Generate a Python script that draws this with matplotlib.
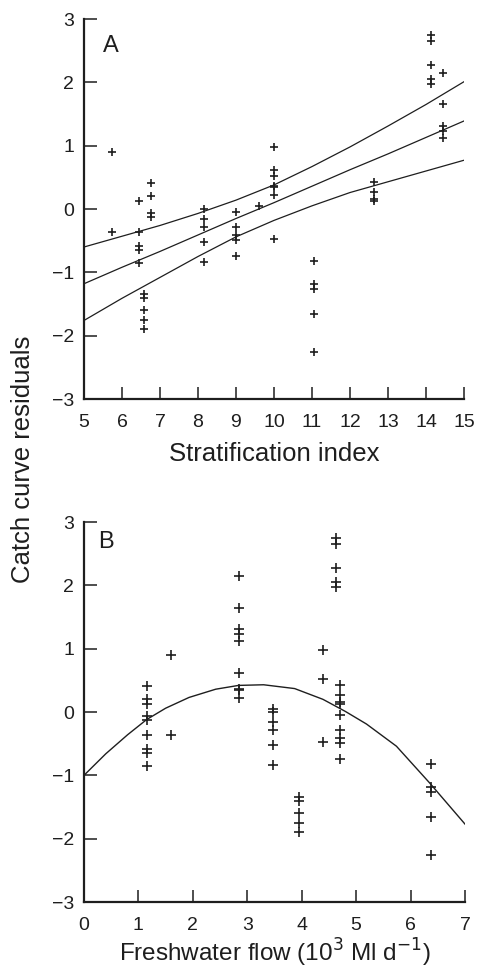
import matplotlib
matplotlib.use("Agg")
import matplotlib.pyplot as plt

plt.rcParams['font.family'] = ['Liberation Sans', 'DejaVu Sans']

# panel A: residuals against stratification index
strat = [5.73, 5.73,
         6.45, 6.45, 6.45, 6.45, 6.45,
         6.59, 6.59, 6.59, 6.59, 6.59,
         6.77, 6.77, 6.77, 6.77,
         8.16, 8.16, 8.16, 8.16, 8.16,
         9.0, 9.0, 9.0, 9.0, 9.0,
         9.61,
         10.0, 10.0, 10.0, 10.0, 10.0, 10.0, 10.0,
         11.06, 11.06, 11.06, 11.06, 11.06,
         12.63, 12.63, 12.63, 12.63,
         14.12, 14.12, 14.12, 14.12, 14.12,
         14.45, 14.45, 14.45, 14.45, 14.45]
resid_a = [0.90, -0.36,
           0.12, -0.36, -0.58, -0.65, -0.85,
           -1.34, -1.40, -1.60, -1.76, -1.90,
           0.41, 0.21, -0.07, -0.12,
           0.00, -0.16, -0.29, -0.52, -0.84,
           -0.05, -0.29, -0.41, -0.49, -0.74,
           0.05,
           0.98, 0.61, 0.52, 0.37, 0.35, 0.22, -0.47,
           -0.82, -1.19, -1.27, -1.66, -2.26,
           0.42, 0.27, 0.16, 0.12,
           2.75, 2.65, 2.28, 2.06, 1.98,
           2.14, 1.65, 1.31, 1.23, 1.12]

# regression line and confidence band
fit_x = [5, 6, 7, 8, 9, 10, 11, 12, 13, 14, 15]
fit_mid = [-1.18, -0.92, -0.67, -0.41, -0.15, 0.10, 0.36, 0.62, 0.87, 1.13, 1.39]
fit_up = [-0.60, -0.43, -0.26, -0.07, 0.14, 0.38, 0.67, 0.98, 1.31, 1.65, 2.01]
fit_lo = [-1.76, -1.41, -1.08, -0.75, -0.44, -0.18, 0.05, 0.26, 0.43, 0.60, 0.77]

# panel B: residuals against freshwater flow
flow = [1.60, 1.60,
        1.15, 1.15, 1.15, 1.15, 1.15,
        3.95, 3.95, 3.95, 3.95, 3.95,
        1.15, 1.15, 1.15, 1.15,
        3.47, 3.47, 3.47, 3.47, 3.47,
        4.70, 4.70, 4.70, 4.70, 4.70,
        3.47,
        4.39, 2.84, 4.39, 2.84, 2.84, 2.84, 4.39,
        6.38, 6.38, 6.38, 6.38, 6.38,
        4.70, 4.70, 4.70, 4.70,
        4.63, 4.63, 4.63, 4.63, 4.63,
        2.84, 2.84, 2.84, 2.84, 2.84]
resid_b = resid_a

curve_x = [0, 0.4, 0.8, 1.15, 1.5, 1.93, 2.42, 2.84, 3.3, 3.87, 4.39, 4.8, 5.19, 5.74, 6.35, 7.0]
curve_y = [-1.0, -0.66, -0.36, -0.12, 0.06, 0.23, 0.36, 0.42, 0.43, 0.37, 0.20, 0.01, -0.19, -0.54, -1.12, -1.77]

ink = '#1e1e1e'

fig = plt.figure(figsize=(4.81, 9.72), dpi=100)
axA = fig.add_axes([84 / 481, 1 - 399 / 972, 380 / 481, 380 / 972])
axB = fig.add_axes([84 / 481, 1 - 902 / 972, 381 / 481, 380 / 972])


def style(ax):
    for s in ['top', 'right']:
        ax.spines[s].set_visible(False)
    for s in ['left', 'bottom']:
        ax.spines[s].set_linewidth(1.6)
        ax.spines[s].set_color(ink)
    ax.tick_params(direction='in', length=9, width=1.1, colors=ink,
                   labelsize=14)
    ax.tick_params(axis='y', pad=7)
    ax.tick_params(axis='x', pad=11)
    ax.set_ylim(-3, 3)
    ax.set_yticks(range(-3, 4))
    ax.set_yticklabels(['\u22123', '\u22122', '\u22121', '0', '1', '2', '3'])


axA.plot(strat, resid_a, '+', color=ink, ms=6, mew=1.2)
axA.plot(fit_x, fit_mid, color=ink, lw=0.9)
axA.plot(fit_x, fit_up, color=ink, lw=0.9)
axA.plot(fit_x, fit_lo, color=ink, lw=0.9)
style(axA)
axA.set_xlim(5, 15)
axA.set_xticks(range(5, 16))
axA.set_xlabel('Stratification index', fontsize=18.5, color=ink, labelpad=8)
axA.text(0.05, 0.9, 'A', transform=axA.transAxes, fontsize=17, color=ink, va='bottom')

axB.plot(flow, resid_b, '+', color=ink, ms=7.5, mew=1.2)
axB.plot(curve_x, curve_y, color=ink, lw=1.0)
style(axB)
axB.set_xlim(0, 7)
axB.set_xticks(range(0, 8))
axB.set_xlabel('Freshwater flow (10$^{3}$ Ml d$^{\u22121}$)', fontsize=17.5, color=ink, labelpad=2)
axB.text(0.037, 0.918, 'B', transform=axB.transAxes, fontsize=17, color=ink, va='bottom')

fig.text(23 / 481, 1 - 459 / 972, 'Catch curve residuals', rotation=90,
         fontsize=18.5, color=ink, ha='center', va='center')

fig.savefig('out.png', dpi=100)
